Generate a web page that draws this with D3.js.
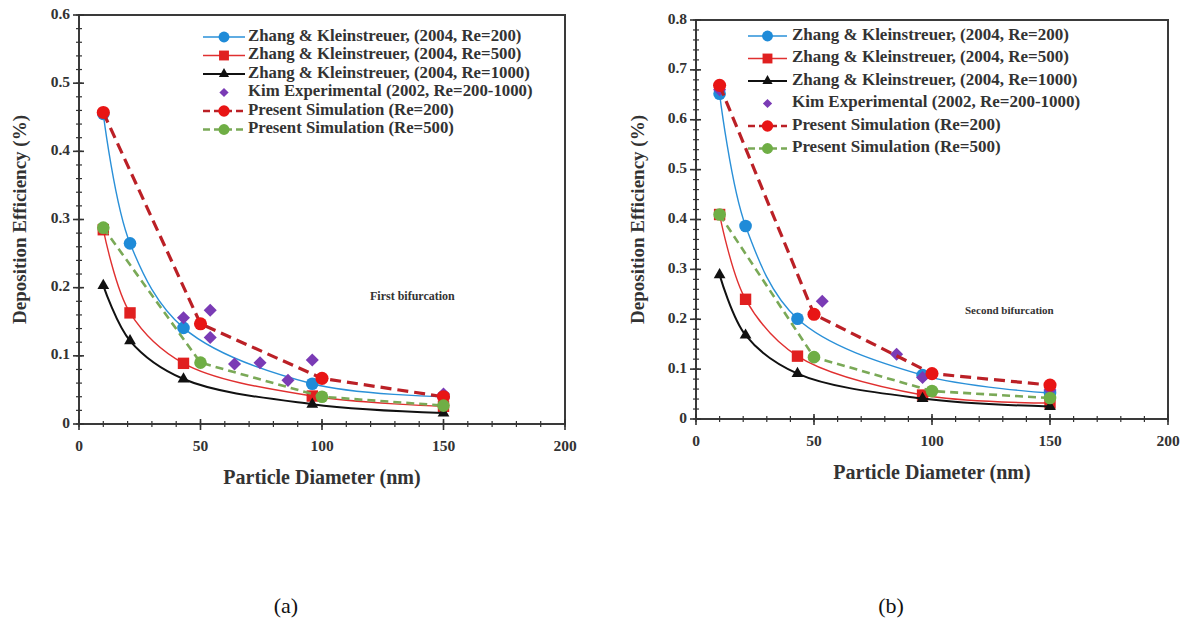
<!DOCTYPE html>
<html>
<head>
<meta charset="utf-8">
<script src="https://cdn.jsdelivr.net/npm/d3@7"></script>
<style>
  body { margin: 0; background: #fff; }
  text { font-family: "Liberation Serif", "Times New Roman", serif; }
</style>
</head>
<body>
<svg id="chart" width="1188" height="632"></svg>
<script>
// ---- data ----
var seriesNames = [
  "Zhang & Kleinstreuer, (2004, Re=200)",
  "Zhang & Kleinstreuer, (2004, Re=500)",
  "Zhang & Kleinstreuer, (2004, Re=1000)",
  "Kim Experimental (2002, Re=200-1000)",
  "Present Simulation (Re=200)",
  "Present Simulation (Re=500)"
];
var xTicks = [0, 50, 100, 150, 200];
var yTicksA = [0, 0.1, 0.2, 0.3, 0.4, 0.5, 0.6];
var yTicksB = [0, 0.1, 0.2, 0.3, 0.4, 0.5, 0.6, 0.7, 0.8];

var zhangX = [10, 21, 43, 96, 150];
var simX = [10, 50, 100, 150];

// (a) first bifurcation
var a_zhang200 = [0.455, 0.265, 0.141, 0.059, 0.040];
var a_zhang500 = [0.285, 0.163, 0.089, 0.041, 0.026];
var a_zhang1000 = [0.203, 0.122, 0.066, 0.029, 0.016];
var a_kimX = [43, 54, 54, 64, 74.5, 86, 96, 150];
var a_kimY = [0.156, 0.167, 0.127, 0.088, 0.090, 0.064, 0.094, 0.044];
var a_sim200 = [0.457, 0.147, 0.067, 0.040];
var a_sim500 = [0.288, 0.090, 0.040, 0.027];

// (b) second bifurcation
var b_zhang200 = [0.652, 0.387, 0.201, 0.088, 0.052];
var b_zhang500 = [0.410, 0.240, 0.126, 0.048, 0.032];
var b_zhang1000 = [0.289, 0.168, 0.091, 0.041, 0.025];
var b_kimX = [10, 53.5, 85, 96, 150];
var b_kimY = [0.660, 0.236, 0.130, 0.083, 0.058];
var b_sim200 = [0.669, 0.210, 0.091, 0.068];
var b_sim500 = [0.410, 0.124, 0.056, 0.042];

// styles for each series (same order as seriesNames)
var styles = [
  {color: "#1f8bd8", lineColor: "#2a90d8", marker: d3.symbolCircle, size: 125, curve: d3.curveCatmullRom, width: 1.4},
  {color: "#e02020", lineColor: "#e03030", marker: d3.symbolSquare, size: 130, curve: d3.curveCatmullRom, width: 1.4},
  {color: "#111111", lineColor: "#111111", marker: d3.symbolTriangle, size: 60, curve: d3.curveCatmullRom, width: 2},
  {color: "#7a3bb5", marker: d3.symbolSquare, size: 85, rotate: 45, curve: null},
  {color: "#e81515", lineColor: "#bb2026", marker: d3.symbolCircle, size: 135, curve: d3.curveLinear, width: 3.2, dash: "11,6"},
  {color: "#6fae45", lineColor: "#7aa957", marker: d3.symbolCircle, size: 125, curve: d3.curveLinear, width: 2.6, dash: "8,5"}
];

function zip(xs, ys) {
  return xs.map(function(x, i) { return {x: x, y: ys[i]}; });
}

var svg = d3.select("#chart");

function drawPanel(p) {
  var xScale = d3.scaleLinear().domain([0, 200]).range([p.x0, p.x1]);
  var yScale = d3.scaleLinear().domain([0, p.yMax]).range([p.yBot, p.yTop]);
  var g = svg.append("g");

  // frame
  g.append("rect")
    .attr("x", p.x0).attr("y", p.yTop)
    .attr("width", p.x1 - p.x0).attr("height", p.yBot - p.yTop)
    .attr("fill", "none").attr("stroke", "#3a3a3a").attr("stroke-width", 2);

  // minor + major ticks (cross the axis line)
  g.selectAll(".xminor").data(d3.range(0, 201, 10)).enter().append("line")
    .attr("x1", function(d) { return xScale(d); }).attr("x2", function(d) { return xScale(d); })
    .attr("y1", p.yBot - 3).attr("y2", p.yBot + 3)
    .attr("stroke", "#333").attr("stroke-width", 1.2);
  g.selectAll(".xmajor").data(xTicks).enter().append("line")
    .attr("x1", function(d) { return xScale(d); }).attr("x2", function(d) { return xScale(d); })
    .attr("y1", p.yBot - 5).attr("y2", p.yBot + 6)
    .attr("stroke", "#333").attr("stroke-width", 1.6);
  g.selectAll(".yminor").data(d3.range(0, Math.round(p.yMax / 0.02) + 1)).enter().append("line")
    .attr("x1", p.x0 - 3).attr("x2", p.x0 + 3)
    .attr("y1", function(d) { return yScale(d * 0.02); }).attr("y2", function(d) { return yScale(d * 0.02); })
    .attr("stroke", "#333").attr("stroke-width", 1.2);
  g.selectAll(".ymajor").data(p.yTicks).enter().append("line")
    .attr("x1", p.x0 - 6).attr("x2", p.x0 + 5)
    .attr("y1", function(d) { return yScale(d); }).attr("y2", function(d) { return yScale(d); })
    .attr("stroke", "#333").attr("stroke-width", 1.6);

  // tick labels
  g.selectAll(".xlab").data(xTicks).enter().append("text")
    .attr("x", function(d) { return xScale(d); })
    .attr("y", p.yBot + 23)
    .attr("text-anchor", "middle").attr("dominant-baseline", "middle")
    .attr("font-size", 15.5).attr("font-weight", "bold").attr("fill", "#333")
    .text(function(d) { return d; });
  g.selectAll(".ylab").data(p.yTicks).enter().append("text")
    .attr("x", p.x0 - 9)
    .attr("y", function(d) { return yScale(d); })
    .attr("text-anchor", "end").attr("dominant-baseline", "middle")
    .attr("font-size", 15.5).attr("font-weight", "bold").attr("fill", "#333")
    .text(function(d) { return d === 0 ? "0" : d3.format(".1f")(d); });

  // axis titles
  g.append("text")
    .attr("x", (p.x0 + p.x1) / 2).attr("y", p.yBot + 55)
    .attr("text-anchor", "middle").attr("dominant-baseline", "middle")
    .attr("font-size", 20).attr("font-weight", "bold").attr("fill", "#333")
    .text("Particle Diameter (nm)");
  g.append("text")
    .attr("transform", "translate(" + p.yTitleX + "," + ((p.yTop + p.yBot) / 2) + ") rotate(-90)")
    .attr("text-anchor", "middle").attr("dominant-baseline", "middle")
    .attr("font-size", 19).attr("font-weight", "bold").attr("fill", "#333")
    .text("Deposition Efficiency (%)");

  // series
  p.series.forEach(function(data, i) {
    var st = styles[i];
    if (st.curve) {
      var line = d3.line()
        .x(function(d) { return xScale(d.x); })
        .y(function(d) { return yScale(d.y); })
        .curve(st.curve);
      g.append("path").datum(data)
        .attr("d", line)
        .attr("fill", "none")
        .attr("stroke", st.lineColor)
        .attr("stroke-width", st.width)
        .attr("stroke-dasharray", st.dash || null);
    }
    g.selectAll(".m" + i).data(data).enter().append("path")
      .attr("transform", function(d) {
        return "translate(" + xScale(d.x) + "," + yScale(d.y) + ")" + (st.rotate ? " rotate(" + st.rotate + ")" : "");
      })
      .attr("d", d3.symbol().type(st.marker).size(st.size))
      .attr("fill", st.color);
  });

  // legend
  seriesNames.forEach(function(name, i) {
    var st = styles[i];
    var y = p.legY + i * p.legDy;
    var mid = (p.legX0 + p.legX1) / 2;
    if (st.curve) {
      g.append("line")
        .attr("x1", p.legX0).attr("x2", p.legX1).attr("y1", y).attr("y2", y)
        .attr("stroke", st.lineColor).attr("stroke-width", Math.min(st.width, 2.6))
        .attr("stroke-dasharray", st.dash ? "7,4" : null);
    }
    g.append("path")
      .attr("transform", "translate(" + mid + "," + y + ")" + (st.rotate ? " rotate(" + st.rotate + ")" : ""))
      .attr("d", d3.symbol().type(st.marker).size(st.curve ? st.size * 0.75 : st.size * 0.5))
      .attr("fill", st.color);
    g.append("text")
      .attr("x", p.legText).attr("y", y)
      .attr("dominant-baseline", "middle")
      .attr("font-size", p.legFont).attr("font-weight", "bold").attr("fill", "#333")
      .text(name);
  });

  // annotation + caption
  g.append("text")
    .attr("x", p.noteX).attr("y", p.noteY)
    .attr("dominant-baseline", "middle")
    .attr("font-size", p.noteFont).attr("font-weight", "bold").attr("fill", "#333")
    .text(p.note);
  g.append("text")
    .attr("x", p.capX).attr("y", 608)
    .attr("text-anchor", "middle").attr("dominant-baseline", "middle")
    .attr("font-size", 22).attr("fill", "#111")
    .text(p.caption);
}

drawPanel({
  x0: 79, x1: 565, yTop: 15, yBot: 424, yMax: 0.6, yTicks: yTicksA, yTitleX: 22,
  series: [zip(zhangX, a_zhang200), zip(zhangX, a_zhang500), zip(zhangX, a_zhang1000),
           zip(a_kimX, a_kimY), zip(simX, a_sim200), zip(simX, a_sim500)],
  legX0: 203, legX1: 245, legText: 248, legY: 37, legDy: 18.5, legFont: 16.8,
  note: "First bifurcation", noteX: 370, noteY: 297, noteFont: 12,
  caption: "(a)", capX: 286
});

drawPanel({
  x0: 696, x1: 1168, yTop: 20, yBot: 419, yMax: 0.8, yTicks: yTicksB, yTitleX: 640,
  series: [zip(zhangX, b_zhang200), zip(zhangX, b_zhang500), zip(zhangX, b_zhang1000),
           zip(b_kimX, b_kimY), zip(simX, b_sim200), zip(simX, b_sim500)],
  legX0: 748, legX1: 787, legText: 792, legY: 36, legDy: 22.5, legFont: 17,
  note: "Second bifurcation", noteX: 965, noteY: 311, noteFont: 11,
  caption: "(b)", capX: 891
});
</script>
</body>
</html>
